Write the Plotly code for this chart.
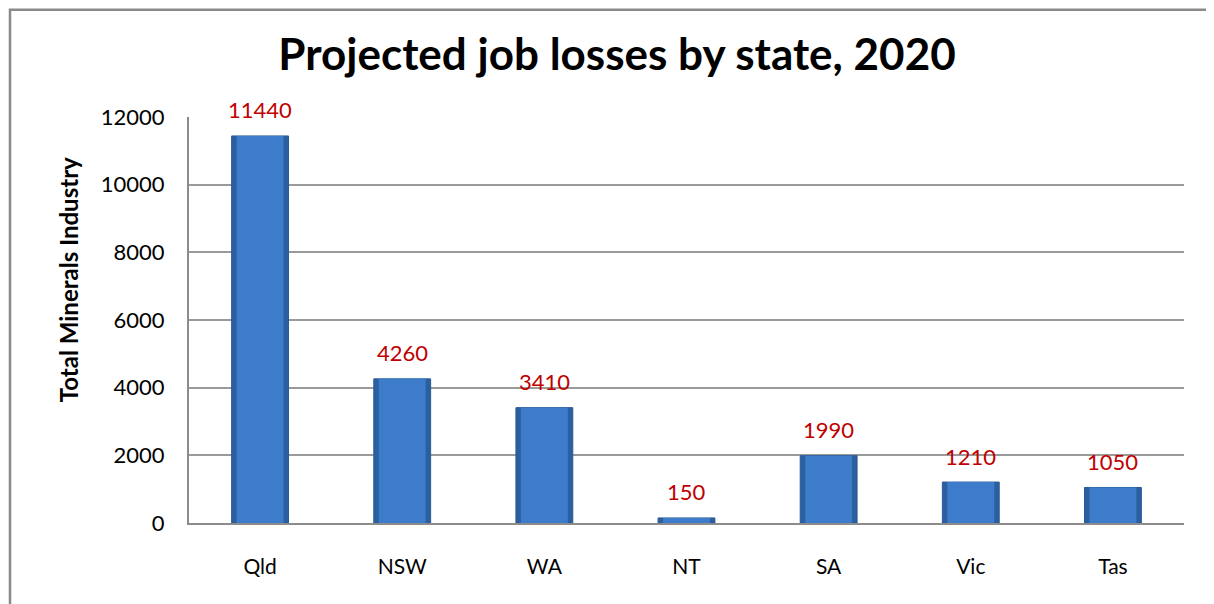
import plotly.graph_objects as go

states = ["Qld", "NSW", "WA", "NT", "SA", "Vic", "Tas"]
job_losses = [11440, 4260, 3410, 150, 1990, 1210, 1050]
y_ticks = [0, 2000, 4000, 6000, 8000, 10000, 12000]

FONT = "Lato, Open Sans, sans-serif"

fig = go.Figure()
# bar body (darker edge)
fig.add_trace(go.Bar(
    x=states, y=job_losses, width=0.4,
    marker=dict(color="#2C5F9F", line=dict(color="#2A5A96", width=1)),
    hoverinfo="skip",
))
# lighter face
fig.add_trace(go.Bar(
    x=states, y=job_losses, width=0.33,
    marker=dict(color="#3C7CCB", line=dict(width=0)),
))

for s, v in zip(states, job_losses):
    fig.add_annotation(x=s, y=v, text=str(v), showarrow=False,
                       yanchor="middle", yshift=26,
                       font=dict(color="#C00000", size=22, family=FONT))

# y-axis title (placed as in the reference, above plot centre)
fig.add_annotation(xref="paper", yref="paper", x=-0.1216, y=0.598,
                   text="<b>Total Minerals Industry</b>", textangle=-90,
                   showarrow=False, xanchor="center", yanchor="middle",
                   font=dict(size=24, family=FONT, color="black"))

W, H = 1206, 596  # page has 8px body margin
fig.update_layout(
    width=W, height=H,
    margin=dict(l=181, r=30, t=109, b=81),
    paper_bgcolor="white", plot_bgcolor="white",
    showlegend=False, barmode="overlay",
    title=dict(text="<b>Projected job losses by state, 2020</b>",
               x=0.505, xanchor="center", y=0.921, yanchor="middle",
               font=dict(size=44, color="black", family=FONT)),
    font=dict(family=FONT, color="black"),
)
fig.update_yaxes(
    range=[0, 12000], tickvals=y_ticks, tickformat="d",
    showgrid=True, gridcolor="#9A9A9A", gridwidth=1.5,
    showline=True, linecolor="#8C8C8C", linewidth=2,
    tickfont=dict(size=22, family=FONT), ticklabelstandoff=18,
    zeroline=False,
)
fig.update_xaxes(
    showline=True, linecolor="#8C8C8C", linewidth=2,
    tickfont=dict(size=21, family=FONT), ticklabelstandoff=24,
    showgrid=False,
)
# outer chart border
fig.add_shape(type="path", xref="paper", yref="paper",
              path="M -0.1799 -0.25 L -0.1799 1.264 L 1.0281 1.264 L 1.0281 -0.25",
              line=dict(color="#8A8A8A", width=2.5))

fig.write_html("out.html")
